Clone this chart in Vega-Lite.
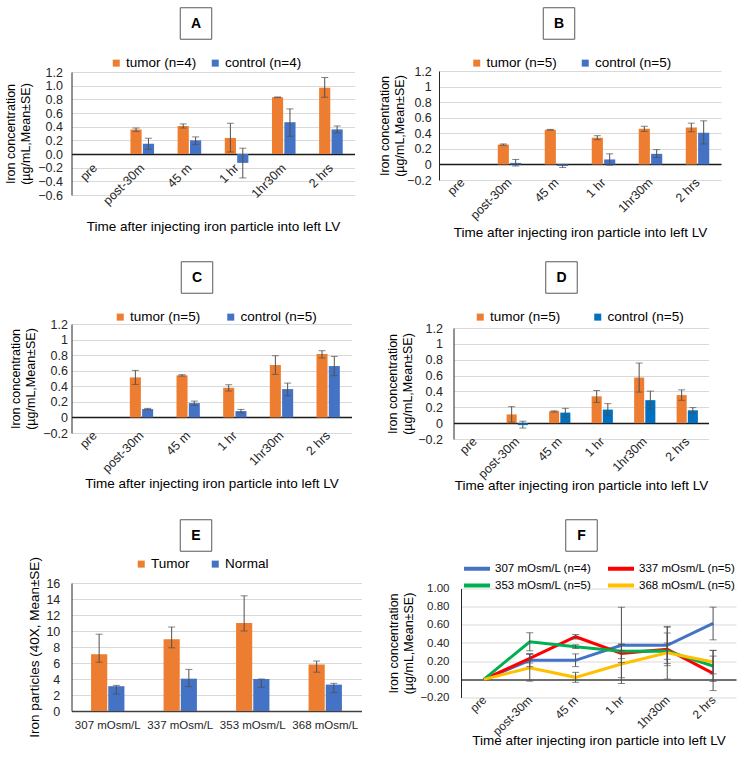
{
  "$schema": "https://vega.github.io/schema/vega-lite/v6.json",
  "background": "white",
  "padding": {"left": 3.5, "top": 5, "right": 0, "bottom": 0},
  "datasets": {
    "A": [
      {"time": "pre", "group": "tumor (n=4)", "value": 0, "lo": null, "hi": null},
      {"time": "pre", "group": "control (n=4)", "value": 0, "lo": null, "hi": null},
      {"time": "post-30m", "group": "tumor (n=4)", "value": 0.36, "lo": 0.33, "hi": 0.38},
      {"time": "post-30m", "group": "control (n=4)", "value": 0.15, "lo": 0.07, "hi": 0.23},
      {"time": "45 m", "group": "tumor (n=4)", "value": 0.41, "lo": 0.38, "hi": 0.44},
      {"time": "45 m", "group": "control (n=4)", "value": 0.2, "lo": 0.14, "hi": 0.25},
      {"time": "1 hr", "group": "tumor (n=4)", "value": 0.235, "lo": 0.03, "hi": 0.45},
      {"time": "1 hr", "group": "control (n=4)", "value": -0.13, "lo": -0.35, "hi": 0.085},
      {"time": "1hr30m", "group": "tumor (n=4)", "value": 0.83, "lo": 0.825, "hi": 0.835},
      {"time": "1hr30m", "group": "control (n=4)", "value": 0.465, "lo": 0.26, "hi": 0.66},
      {"time": "2 hrs", "group": "tumor (n=4)", "value": 0.97, "lo": 0.83, "hi": 1.12},
      {"time": "2 hrs", "group": "control (n=4)", "value": 0.36, "lo": 0.31, "hi": 0.41}
    ],
    "B": [
      {"time": "pre", "group": "tumor (n=5)", "value": 0, "lo": null, "hi": null},
      {"time": "pre", "group": "control (n=5)", "value": 0, "lo": null, "hi": null},
      {"time": "post-30m", "group": "tumor (n=5)", "value": 0.255, "lo": 0.246, "hi": 0.263},
      {"time": "post-30m", "group": "control (n=5)", "value": 0.02, "lo": -0.02, "hi": 0.064},
      {"time": "45 m", "group": "tumor (n=5)", "value": 0.445, "lo": 0.44, "hi": 0.45},
      {"time": "45 m", "group": "control (n=5)", "value": -0.02, "lo": -0.04, "hi": 0.0},
      {"time": "1 hr", "group": "tumor (n=5)", "value": 0.343, "lo": 0.318, "hi": 0.369},
      {"time": "1 hr", "group": "control (n=5)", "value": 0.064, "lo": -0.01, "hi": 0.136},
      {"time": "1hr30m", "group": "tumor (n=5)", "value": 0.458, "lo": 0.424, "hi": 0.49},
      {"time": "1hr30m", "group": "control (n=5)", "value": 0.136, "lo": 0.089, "hi": 0.19},
      {"time": "2 hrs", "group": "tumor (n=5)", "value": 0.475, "lo": 0.42, "hi": 0.53},
      {"time": "2 hrs", "group": "control (n=5)", "value": 0.407, "lo": 0.263, "hi": 0.56}
    ],
    "C": [
      {"time": "pre", "group": "tumor (n=5)", "value": 0, "lo": null, "hi": null},
      {"time": "pre", "group": "control (n=5)", "value": 0, "lo": null, "hi": null},
      {"time": "post-30m", "group": "tumor (n=5)", "value": 0.514, "lo": 0.424, "hi": 0.604},
      {"time": "post-30m", "group": "control (n=5)", "value": 0.107, "lo": 0.099, "hi": 0.116},
      {"time": "45 m", "group": "tumor (n=5)", "value": 0.54, "lo": 0.531, "hi": 0.549},
      {"time": "45 m", "group": "control (n=5)", "value": 0.184, "lo": 0.154, "hi": 0.21},
      {"time": "1 hr", "group": "tumor (n=5)", "value": 0.381, "lo": 0.339, "hi": 0.42},
      {"time": "1 hr", "group": "control (n=5)", "value": 0.081, "lo": 0.06, "hi": 0.103},
      {"time": "1hr30m", "group": "tumor (n=5)", "value": 0.673, "lo": 0.553, "hi": 0.793},
      {"time": "1hr30m", "group": "control (n=5)", "value": 0.364, "lo": 0.279, "hi": 0.441},
      {"time": "2 hrs", "group": "tumor (n=5)", "value": 0.814, "lo": 0.763, "hi": 0.857},
      {"time": "2 hrs", "group": "control (n=5)", "value": 0.66, "lo": 0.536, "hi": 0.784}
    ],
    "D": [
      {"time": "pre", "group": "tumor (n=5)", "value": 0, "lo": null, "hi": null},
      {"time": "pre", "group": "control (n=5)", "value": 0, "lo": null, "hi": null},
      {"time": "post-30m", "group": "tumor (n=5)", "value": 0.11, "lo": 0.012, "hi": 0.208},
      {"time": "post-30m", "group": "control (n=5)", "value": -0.025, "lo": -0.062, "hi": 0.025},
      {"time": "45 m", "group": "tumor (n=5)", "value": 0.15, "lo": 0.14, "hi": 0.155},
      {"time": "45 m", "group": "control (n=5)", "value": 0.133, "lo": 0.075, "hi": 0.187},
      {"time": "1 hr", "group": "tumor (n=5)", "value": 0.338, "lo": 0.262, "hi": 0.412},
      {"time": "1 hr", "group": "control (n=5)", "value": 0.171, "lo": 0.096, "hi": 0.246},
      {"time": "1hr30m", "group": "tumor (n=5)", "value": 0.575, "lo": 0.392, "hi": 0.758},
      {"time": "1hr30m", "group": "control (n=5)", "value": 0.29, "lo": 0.179, "hi": 0.404},
      {"time": "2 hrs", "group": "tumor (n=5)", "value": 0.354, "lo": 0.288, "hi": 0.42},
      {"time": "2 hrs", "group": "control (n=5)", "value": 0.162, "lo": 0.125, "hi": 0.196}
    ],
    "E": [
      {"osm": "307 mOsm/L", "group": "Tumor", "value": 7.1, "lo": 6.1, "hi": 9.6},
      {"osm": "307 mOsm/L", "group": "Normal", "value": 3.1, "lo": 2.1, "hi": 3.2},
      {"osm": "337 mOsm/L", "group": "Tumor", "value": 8.96, "lo": 7.9, "hi": 10.5},
      {"osm": "337 mOsm/L", "group": "Normal", "value": 4.04, "lo": 3.04, "hi": 5.2},
      {"osm": "353 mOsm/L", "group": "Tumor", "value": 11.0, "lo": 10.0, "hi": 14.4},
      {"osm": "353 mOsm/L", "group": "Normal", "value": 4.0, "lo": 2.96, "hi": 4.0},
      {"osm": "368 mOsm/L", "group": "Tumor", "value": 5.8, "lo": 4.85, "hi": 6.25},
      {"osm": "368 mOsm/L", "group": "Normal", "value": 3.3, "lo": 2.3, "hi": 3.46}
    ],
    "F": [
      {"time": "pre", "series": "307 mOsm/L (n=4)", "value": 0, "lo": null, "hi": null},
      {"time": "post-30m", "series": "307 mOsm/L (n=4)", "value": 0.209, "lo": 0.14, "hi": 0.28},
      {"time": "45 m", "series": "307 mOsm/L (n=4)", "value": 0.209, "lo": 0.14, "hi": 0.28},
      {"time": "1 hr", "series": "307 mOsm/L (n=4)", "value": 0.374, "lo": -0.046, "hi": 0.794},
      {"time": "1hr30m", "series": "307 mOsm/L (n=4)", "value": 0.374, "lo": 0.174, "hi": 0.574},
      {"time": "2 hrs", "series": "307 mOsm/L (n=4)", "value": 0.615, "lo": 0.435, "hi": 0.795},
      {"time": "pre", "series": "337 mOsm/L (n=5)", "value": 0, "lo": null, "hi": null},
      {"time": "post-30m", "series": "337 mOsm/L (n=5)", "value": 0.23, "lo": 0.18, "hi": 0.28},
      {"time": "45 m", "series": "337 mOsm/L (n=5)", "value": 0.469, "lo": 0.444, "hi": 0.494},
      {"time": "1 hr", "series": "337 mOsm/L (n=5)", "value": 0.286, "lo": 0.186, "hi": 0.386},
      {"time": "1hr30m", "series": "337 mOsm/L (n=5)", "value": 0.33, "lo": 0.15, "hi": 0.51},
      {"time": "2 hrs", "series": "337 mOsm/L (n=5)", "value": 0.066, "lo": -0.124, "hi": 0.256},
      {"time": "pre", "series": "353 mOsm/L (n=5)", "value": 0, "lo": null, "hi": null},
      {"time": "post-30m", "series": "353 mOsm/L (n=5)", "value": 0.414, "lo": 0.314, "hi": 0.513},
      {"time": "45 m", "series": "353 mOsm/L (n=5)", "value": 0.359, "lo": 0.34, "hi": 0.38},
      {"time": "1 hr", "series": "353 mOsm/L (n=5)", "value": 0.308, "lo": 0.228, "hi": 0.388},
      {"time": "1hr30m", "series": "353 mOsm/L (n=5)", "value": 0.311, "lo": 0.22, "hi": 0.4},
      {"time": "2 hrs", "series": "353 mOsm/L (n=5)", "value": 0.147, "lo": -0.023, "hi": 0.317},
      {"time": "pre", "series": "368 mOsm/L (n=5)", "value": 0, "lo": null, "hi": null},
      {"time": "post-30m", "series": "368 mOsm/L (n=5)", "value": 0.128, "lo": -0.02, "hi": 0.278},
      {"time": "45 m", "series": "368 mOsm/L (n=5)", "value": 0.022, "lo": -0.033, "hi": 0.077},
      {"time": "1 hr", "series": "368 mOsm/L (n=5)", "value": 0.168, "lo": 0.018, "hi": 0.318},
      {"time": "1hr30m", "series": "368 mOsm/L (n=5)", "value": 0.293, "lo": 0.003, "hi": 0.583},
      {"time": "2 hrs", "series": "368 mOsm/L (n=5)", "value": 0.19, "lo": 0.06, "hi": 0.32}
    ]
  },
  "spacing": 20,
  "resolve": {"scale": {"color": "independent", "xOffset": "independent"}, "legend": {"color": "independent"}},
  "vconcat": [
    {
      "hconcat": [
        {
          "vconcat": [
            {"width": 249, "height": 31, "data": {"values": [{"letter": "A"}]}, "layer": [
              {"mark": {"type": "point", "shape": "square", "size": 992, "filled": false, "stroke": "#595959", "strokeWidth": 1, "opacity": 1}, "encoding": {}},
              {"mark": {"type": "text", "fontWeight": "bold", "fontSize": 14, "align": "center", "baseline": "middle"}, "encoding": {"text": {"field": "letter"}}}
            ]},
            {
              "width": 283, "height": 123,
              "data": {"name": "A"},
              "encoding": {
                "x": {"field": "time", "type": "nominal", "title": "Time after injecting iron particle into left LV", "scale": {"domain": ["pre", "post-30m", "45 m", "1 hr", "1hr30m", "2 hrs"], "paddingInner": 0.5, "paddingOuter": 0.25}, "axis": {"labelAngle": -45, "labelAlign": "right", "labelBaseline": "middle", "domain": false, "ticks": false, "grid": false, "labelPadding": -29.5, "titlePadding": 13}},
                "xOffset": {"field": "group", "type": "nominal", "scale": {"domain": ["tumor (n=4)", "control (n=4)"], "paddingInner": 0.1, "paddingOuter": 0}}
              },
              "layer": [
                {"mark": {"type": "bar"},
                 "encoding": {
                   "y": {"field": "value", "type": "quantitative", "title": ["Iron concentration", "(µg/mL,Mean±SE)"], "scale": {"domain": [-0.6, 1.2], "nice": false, "zero": false}, "axis": {"values": [-0.6, -0.4, -0.2, 0, 0.2, 0.4, 0.6, 0.8, 1.0, 1.2], "format": ".1f", "labelPadding": 9, "titlePadding": 5.5, "grid": true, "domain": true, "labelOverlap": false, "gridColor": {"condition": {"test": "datum.value === 0", "value": "#1a1a1a"}, "value": "#D9D9D9"}, "gridWidth": {"condition": {"test": "datum.value === 0", "value": 1.3}, "value": 1}}},
                   "color": {"field": "group", "type": "nominal", "scale": {"domain": ["tumor (n=4)", "control (n=4)"], "range": ["#ED7D31", "#4472C4"]}, "legend": {"orient": "none", "legendX": 38, "legendY": -16, "direction": "horizontal", "title": null, "columnPadding": 12}}
                 }},
                {"transform": [{"filter": "datum.lo != null"}], "mark": {"type": "rule", "color": "#505050"},
                 "encoding": {"y": {"field": "lo", "type": "quantitative", "title": ["Iron concentration", "(µg/mL,Mean±SE)"], "scale": {"domain": [-0.6, 1.2], "nice": false, "zero": false}, "axis": {"values": [-0.6, -0.4, -0.2, 0, 0.2, 0.4, 0.6, 0.8, 1.0, 1.2], "format": ".1f", "labelPadding": 9, "titlePadding": 5.5, "grid": true, "domain": true, "labelOverlap": false, "gridColor": {"condition": {"test": "datum.value === 0", "value": "#1a1a1a"}, "value": "#D9D9D9"}, "gridWidth": {"condition": {"test": "datum.value === 0", "value": 1.3}, "value": 1}}}, "y2": {"field": "hi"}}},
                {"transform": [{"filter": "datum.lo != null"}], "mark": {"type": "tick", "color": "#505050", "size": 7, "thickness": 1},
                 "encoding": {"y": {"field": "lo", "type": "quantitative", "title": ["Iron concentration", "(µg/mL,Mean±SE)"], "scale": {"domain": [-0.6, 1.2], "nice": false, "zero": false}, "axis": {"values": [-0.6, -0.4, -0.2, 0, 0.2, 0.4, 0.6, 0.8, 1.0, 1.2], "format": ".1f", "labelPadding": 9, "titlePadding": 5.5, "grid": true, "domain": true, "labelOverlap": false, "gridColor": {"condition": {"test": "datum.value === 0", "value": "#1a1a1a"}, "value": "#D9D9D9"}, "gridWidth": {"condition": {"test": "datum.value === 0", "value": 1.3}, "value": 1}}}}},
                {"transform": [{"filter": "datum.lo != null"}], "mark": {"type": "tick", "color": "#505050", "size": 7, "thickness": 1},
                 "encoding": {"y": {"field": "hi", "type": "quantitative", "title": ["Iron concentration", "(µg/mL,Mean±SE)"], "scale": {"domain": [-0.6, 1.2], "nice": false, "zero": false}, "axis": {"values": [-0.6, -0.4, -0.2, 0, 0.2, 0.4, 0.6, 0.8, 1.0, 1.2], "format": ".1f", "labelPadding": 9, "titlePadding": 5.5, "grid": true, "domain": true, "labelOverlap": false, "gridColor": {"condition": {"test": "datum.value === 0", "value": "#1a1a1a"}, "value": "#D9D9D9"}, "gridWidth": {"condition": {"test": "datum.value === 0", "value": 1.3}, "value": 1}}}}}
              ]
            }
          ],
          "spacing": 14,
          "resolve": {"scale": {"color": "independent", "xOffset": "independent"}, "legend": {"color": "independent"}}
        },
        {
          "vconcat": [
            {"width": 240, "height": 31, "data": {"values": [{"letter": "B"}]}, "layer": [
              {"mark": {"type": "point", "shape": "square", "size": 992, "filled": false, "stroke": "#595959", "strokeWidth": 1, "opacity": 1}, "encoding": {}},
              {"mark": {"type": "text", "fontWeight": "bold", "fontSize": 14, "align": "center", "baseline": "middle"}, "encoding": {"text": {"field": "letter"}}}
            ]},
            {
              "width": 282, "height": 109,
              "data": {"name": "B"},
              "encoding": {
                "x": {"field": "time", "type": "nominal", "title": "Time after injecting iron particle into left LV", "scale": {"domain": ["pre", "post-30m", "45 m", "1 hr", "1hr30m", "2 hrs"], "paddingInner": 0.5, "paddingOuter": 0.25}, "axis": {"labelAngle": -45, "labelAlign": "right", "labelBaseline": "middle", "domain": false, "ticks": false, "grid": false, "labelPadding": 0, "titlePadding": 4}},
                "xOffset": {"field": "group", "type": "nominal", "scale": {"domain": ["tumor (n=5)", "control (n=5)"], "paddingInner": 0.1, "paddingOuter": 0}}
              },
              "layer": [
                {"mark": {"type": "bar"},
                 "encoding": {
                   "y": {"field": "value", "type": "quantitative", "title": ["Iron concentration", "(µg/mL,Mean±SE)"], "scale": {"domain": [-0.2, 1.2], "nice": false, "zero": false}, "axis": {"values": [-0.2, 0, 0.2, 0.4, 0.6, 0.8, 1.0, 1.2], "format": ".1~f", "labelPadding": 7.7, "titlePadding": 0, "grid": true, "domain": true, "labelOverlap": false, "gridColor": {"condition": {"test": "datum.value === 0", "value": "#1a1a1a"}, "value": "#D9D9D9"}, "gridWidth": {"condition": {"test": "datum.value === 0", "value": 1.3}, "value": 1}}},
                   "color": {"field": "group", "type": "nominal", "scale": {"domain": ["tumor (n=5)", "control (n=5)"], "range": ["#ED7D31", "#4472C4"]}, "legend": {"orient": "none", "legendX": 31, "legendY": -15, "direction": "horizontal", "title": null, "columnPadding": 21.5}}
                 }},
                {"transform": [{"filter": "datum.lo != null"}], "mark": {"type": "rule", "color": "#505050"},
                 "encoding": {"y": {"field": "lo", "type": "quantitative", "title": ["Iron concentration", "(µg/mL,Mean±SE)"], "scale": {"domain": [-0.2, 1.2], "nice": false, "zero": false}, "axis": {"values": [-0.2, 0, 0.2, 0.4, 0.6, 0.8, 1.0, 1.2], "format": ".1~f", "labelPadding": 7.7, "titlePadding": 0, "grid": true, "domain": true, "labelOverlap": false, "gridColor": {"condition": {"test": "datum.value === 0", "value": "#1a1a1a"}, "value": "#D9D9D9"}, "gridWidth": {"condition": {"test": "datum.value === 0", "value": 1.3}, "value": 1}}}, "y2": {"field": "hi"}}},
                {"transform": [{"filter": "datum.lo != null"}], "mark": {"type": "tick", "color": "#505050", "size": 7, "thickness": 1},
                 "encoding": {"y": {"field": "lo", "type": "quantitative", "title": ["Iron concentration", "(µg/mL,Mean±SE)"], "scale": {"domain": [-0.2, 1.2], "nice": false, "zero": false}, "axis": {"values": [-0.2, 0, 0.2, 0.4, 0.6, 0.8, 1.0, 1.2], "format": ".1~f", "labelPadding": 7.7, "titlePadding": 0, "grid": true, "domain": true, "labelOverlap": false, "gridColor": {"condition": {"test": "datum.value === 0", "value": "#1a1a1a"}, "value": "#D9D9D9"}, "gridWidth": {"condition": {"test": "datum.value === 0", "value": 1.3}, "value": 1}}}}},
                {"transform": [{"filter": "datum.lo != null"}], "mark": {"type": "tick", "color": "#505050", "size": 7, "thickness": 1},
                 "encoding": {"y": {"field": "hi", "type": "quantitative", "title": ["Iron concentration", "(µg/mL,Mean±SE)"], "scale": {"domain": [-0.2, 1.2], "nice": false, "zero": false}, "axis": {"values": [-0.2, 0, 0.2, 0.4, 0.6, 0.8, 1.0, 1.2], "format": ".1~f", "labelPadding": 7.7, "titlePadding": 0, "grid": true, "domain": true, "labelOverlap": false, "gridColor": {"condition": {"test": "datum.value === 0", "value": "#1a1a1a"}, "value": "#D9D9D9"}, "gridWidth": {"condition": {"test": "datum.value === 0", "value": 1.3}, "value": 1}}}}}
              ]
            }
          ],
          "spacing": 14,
          "resolve": {"scale": {"color": "independent", "xOffset": "independent"}, "legend": {"color": "independent"}}
        }
      ],
      "spacing": 23.5,
      "resolve": {"scale": {"color": "independent", "xOffset": "independent"}, "legend": {"color": "independent"}}
    },
    {
      "vconcat": [
        {
          "hconcat": [
            {
              "vconcat": [
                {"width": 251, "height": 31, "data": {"values": [{"letter": "C"}]}, "layer": [
                  {"mark": {"type": "point", "shape": "square", "size": 992, "filled": false, "stroke": "#595959", "strokeWidth": 1, "opacity": 1}, "encoding": {}},
                  {"mark": {"type": "text", "fontWeight": "bold", "fontSize": 14, "align": "center", "baseline": "middle"}, "encoding": {"text": {"field": "letter"}}}
                ]},
                {
                  "width": 280, "height": 109,
                  "data": {"name": "C"},
                  "encoding": {
                    "x": {"field": "time", "type": "nominal", "title": "Time after injecting iron particle into left LV", "scale": {"domain": ["pre", "post-30m", "45 m", "1 hr", "1hr30m", "2 hrs"], "paddingInner": 0.5, "paddingOuter": 0.25}, "axis": {"labelAngle": -45, "labelAlign": "right", "labelBaseline": "middle", "domain": false, "ticks": false, "grid": false, "labelPadding": 0, "titlePadding": 2}},
                    "xOffset": {"field": "group", "type": "nominal", "scale": {"domain": ["tumor (n=5)", "control (n=5)"], "paddingInner": 0.1, "paddingOuter": 0}}
                  },
                  "layer": [
                    {"mark": {"type": "bar"},
                     "encoding": {
                       "y": {"field": "value", "type": "quantitative", "title": ["Iron concentration", "(µg/mL,Mean±SE)"], "scale": {"domain": [-0.2, 1.2], "nice": false, "zero": false}, "axis": {"values": [-0.2, 0, 0.2, 0.4, 0.6, 0.8, 1.0, 1.2], "format": ".1~f", "labelPadding": 4, "titlePadding": 5, "grid": true, "domain": true, "labelOverlap": false, "gridColor": {"condition": {"test": "datum.value === 0", "value": "#1a1a1a"}, "value": "#D9D9D9"}, "gridWidth": {"condition": {"test": "datum.value === 0", "value": 1.3}, "value": 1}}},
                       "color": {"field": "group", "type": "nominal", "scale": {"domain": ["tumor (n=5)", "control (n=5)"], "range": ["#ED7D31", "#4472C4"]}, "legend": {"orient": "none", "legendX": 42, "legendY": -14, "direction": "horizontal", "title": null, "columnPadding": 23.5}}
                     }},
                    {"transform": [{"filter": "datum.lo != null"}], "mark": {"type": "rule", "color": "#505050"},
                     "encoding": {"y": {"field": "lo", "type": "quantitative", "title": ["Iron concentration", "(µg/mL,Mean±SE)"], "scale": {"domain": [-0.2, 1.2], "nice": false, "zero": false}, "axis": {"values": [-0.2, 0, 0.2, 0.4, 0.6, 0.8, 1.0, 1.2], "format": ".1~f", "labelPadding": 4, "titlePadding": 5, "grid": true, "domain": true, "labelOverlap": false, "gridColor": {"condition": {"test": "datum.value === 0", "value": "#1a1a1a"}, "value": "#D9D9D9"}, "gridWidth": {"condition": {"test": "datum.value === 0", "value": 1.3}, "value": 1}}}, "y2": {"field": "hi"}}},
                    {"transform": [{"filter": "datum.lo != null"}], "mark": {"type": "tick", "color": "#505050", "size": 7, "thickness": 1},
                     "encoding": {"y": {"field": "lo", "type": "quantitative", "title": ["Iron concentration", "(µg/mL,Mean±SE)"], "scale": {"domain": [-0.2, 1.2], "nice": false, "zero": false}, "axis": {"values": [-0.2, 0, 0.2, 0.4, 0.6, 0.8, 1.0, 1.2], "format": ".1~f", "labelPadding": 4, "titlePadding": 5, "grid": true, "domain": true, "labelOverlap": false, "gridColor": {"condition": {"test": "datum.value === 0", "value": "#1a1a1a"}, "value": "#D9D9D9"}, "gridWidth": {"condition": {"test": "datum.value === 0", "value": 1.3}, "value": 1}}}}},
                    {"transform": [{"filter": "datum.lo != null"}], "mark": {"type": "tick", "color": "#505050", "size": 7, "thickness": 1},
                     "encoding": {"y": {"field": "hi", "type": "quantitative", "title": ["Iron concentration", "(µg/mL,Mean±SE)"], "scale": {"domain": [-0.2, 1.2], "nice": false, "zero": false}, "axis": {"values": [-0.2, 0, 0.2, 0.4, 0.6, 0.8, 1.0, 1.2], "format": ".1~f", "labelPadding": 4, "titlePadding": 5, "grid": true, "domain": true, "labelOverlap": false, "gridColor": {"condition": {"test": "datum.value === 0", "value": "#1a1a1a"}, "value": "#D9D9D9"}, "gridWidth": {"condition": {"test": "datum.value === 0", "value": 1.3}, "value": 1}}}}}
                  ]
                }
              ],
              "spacing": 14,
              "resolve": {"scale": {"color": "independent", "xOffset": "independent"}, "legend": {"color": "independent"}}
            },
            {
              "vconcat": [
                {"width": 216, "height": 31, "data": {"values": [{"letter": "D"}]}, "layer": [
                  {"mark": {"type": "point", "shape": "square", "size": 992, "filled": false, "stroke": "#595959", "strokeWidth": 1, "opacity": 1}, "encoding": {}},
                  {"mark": {"type": "text", "fontWeight": "bold", "fontSize": 14, "align": "center", "baseline": "middle"}, "encoding": {"text": {"field": "letter"}}}
                ]},
                {
                  "width": 255, "height": 111,
                  "data": {"name": "D"},
                  "encoding": {
                    "x": {"field": "time", "type": "nominal", "title": "Time after injecting iron particle into left LV", "scale": {"domain": ["pre", "post-30m", "45 m", "1 hr", "1hr30m", "2 hrs"], "paddingInner": 0.5, "paddingOuter": 0.25}, "axis": {"labelAngle": -45, "labelAlign": "right", "labelBaseline": "middle", "domain": false, "ticks": false, "grid": false, "labelPadding": 0, "titlePadding": -1.5}},
                    "xOffset": {"field": "group", "type": "nominal", "scale": {"domain": ["tumor (n=5)", "control (n=5)"], "paddingInner": 0.1, "paddingOuter": 0}}
                  },
                  "layer": [
                    {"mark": {"type": "bar"},
                     "encoding": {
                       "y": {"field": "value", "type": "quantitative", "title": ["Iron concentration", "(µg/mL,Mean±SE)"], "scale": {"domain": [-0.2, 1.2], "nice": false, "zero": false}, "axis": {"values": [-0.2, 0, 0.2, 0.4, 0.6, 0.8, 1.0, 1.2], "format": ".1~f", "labelPadding": 11, "titlePadding": 3, "grid": true, "domain": true, "labelOverlap": false, "gridColor": {"condition": {"test": "datum.value === 0", "value": "#1a1a1a"}, "value": "#D9D9D9"}, "gridWidth": {"condition": {"test": "datum.value === 0", "value": 1.3}, "value": 1}}},
                       "color": {"field": "group", "type": "nominal", "scale": {"domain": ["tumor (n=5)", "control (n=5)"], "range": ["#ED7D31", "#0070C0"]}, "legend": {"orient": "none", "legendX": 20, "legendY": -18, "direction": "horizontal", "title": null, "columnPadding": 30.5}}
                     }},
                    {"transform": [{"filter": "datum.lo != null"}], "mark": {"type": "rule", "color": "#505050"},
                     "encoding": {"y": {"field": "lo", "type": "quantitative", "title": ["Iron concentration", "(µg/mL,Mean±SE)"], "scale": {"domain": [-0.2, 1.2], "nice": false, "zero": false}, "axis": {"values": [-0.2, 0, 0.2, 0.4, 0.6, 0.8, 1.0, 1.2], "format": ".1~f", "labelPadding": 11, "titlePadding": 3, "grid": true, "domain": true, "labelOverlap": false, "gridColor": {"condition": {"test": "datum.value === 0", "value": "#1a1a1a"}, "value": "#D9D9D9"}, "gridWidth": {"condition": {"test": "datum.value === 0", "value": 1.3}, "value": 1}}}, "y2": {"field": "hi"}}},
                    {"transform": [{"filter": "datum.lo != null"}], "mark": {"type": "tick", "color": "#505050", "size": 7, "thickness": 1},
                     "encoding": {"y": {"field": "lo", "type": "quantitative", "title": ["Iron concentration", "(µg/mL,Mean±SE)"], "scale": {"domain": [-0.2, 1.2], "nice": false, "zero": false}, "axis": {"values": [-0.2, 0, 0.2, 0.4, 0.6, 0.8, 1.0, 1.2], "format": ".1~f", "labelPadding": 11, "titlePadding": 3, "grid": true, "domain": true, "labelOverlap": false, "gridColor": {"condition": {"test": "datum.value === 0", "value": "#1a1a1a"}, "value": "#D9D9D9"}, "gridWidth": {"condition": {"test": "datum.value === 0", "value": 1.3}, "value": 1}}}}},
                    {"transform": [{"filter": "datum.lo != null"}], "mark": {"type": "tick", "color": "#505050", "size": 7, "thickness": 1},
                     "encoding": {"y": {"field": "hi", "type": "quantitative", "title": ["Iron concentration", "(µg/mL,Mean±SE)"], "scale": {"domain": [-0.2, 1.2], "nice": false, "zero": false}, "axis": {"values": [-0.2, 0, 0.2, 0.4, 0.6, 0.8, 1.0, 1.2], "format": ".1~f", "labelPadding": 11, "titlePadding": 3, "grid": true, "domain": true, "labelOverlap": false, "gridColor": {"condition": {"test": "datum.value === 0", "value": "#1a1a1a"}, "value": "#D9D9D9"}, "gridWidth": {"condition": {"test": "datum.value === 0", "value": 1.3}, "value": 1}}}}}
                  ]
                }
              ],
              "spacing": 14,
              "resolve": {"scale": {"color": "independent", "xOffset": "independent"}, "legend": {"color": "independent"}}
            }
          ],
          "spacing": 35,
          "resolve": {"scale": {"color": "independent", "xOffset": "independent"}, "legend": {"color": "independent"}}
        },
        {
          "hconcat": [
            {
              "vconcat": [
                {"width": 249, "height": 31, "data": {"values": [{"letter": "E"}]}, "layer": [
                  {"mark": {"type": "point", "shape": "square", "size": 992, "filled": false, "stroke": "#595959", "strokeWidth": 1, "opacity": 1}, "encoding": {}},
                  {"mark": {"type": "text", "fontWeight": "bold", "fontSize": 14, "align": "center", "baseline": "middle"}, "encoding": {"text": {"field": "letter"}}}
                ]},
                {
                  "width": 290, "height": 128,
                  "data": {"name": "E"},
                  "encoding": {
                    "x": {"field": "osm", "type": "nominal", "title": null, "scale": {"paddingInner": 0.54, "paddingOuter": 0.27}, "axis": {"labelAngle": 0, "domain": false, "ticks": false, "grid": false, "labelPadding": 8, "labelFontSize": 11.5}},
                    "xOffset": {"field": "group", "type": "nominal", "scale": {"domain": ["Tumor", "Normal"], "paddingInner": 0.06, "paddingOuter": 0}}
                  },
                  "layer": [
                    {"mark": {"type": "bar"},
                     "encoding": {
                       "y": {"field": "value", "type": "quantitative", "title": "Iron particles (40X, Mean±SE)", "scale": {"domain": [0, 16], "nice": false}, "axis": {"values": [0, 2, 4, 6, 8, 10, 12, 14, 16], "format": "d", "labelPadding": 11.7, "titlePadding": 4, "titleFontSize": 13.5, "grid": true, "domain": true, "labelOverlap": false, "gridColor": {"condition": {"test": "datum.value === 0", "value": "#404040"}, "value": "#D9D9D9"}, "gridWidth": {"condition": {"test": "datum.value === 0", "value": 1.3}, "value": 1}}},
                       "color": {"field": "group", "type": "nominal", "scale": {"domain": ["Tumor", "Normal"], "range": ["#ED7D31", "#4472C4"]}, "legend": {"orient": "none", "legendX": 63, "legendY": -26, "direction": "horizontal", "title": null, "columnPadding": 18}}
                     }},
                    {"mark": {"type": "rule", "color": "#505050"},
                     "encoding": {"y": {"field": "lo", "type": "quantitative", "title": "Iron particles (40X, Mean±SE)", "scale": {"domain": [0, 16], "nice": false}, "axis": {"values": [0, 2, 4, 6, 8, 10, 12, 14, 16], "format": "d", "labelPadding": 11.7, "titlePadding": 4, "titleFontSize": 13.5, "grid": true, "domain": true, "labelOverlap": false, "gridColor": {"condition": {"test": "datum.value === 0", "value": "#404040"}, "value": "#D9D9D9"}, "gridWidth": {"condition": {"test": "datum.value === 0", "value": 1.3}, "value": 1}}}, "y2": {"field": "hi"}}},
                    {"mark": {"type": "tick", "color": "#505050", "size": 7, "thickness": 1},
                     "encoding": {"y": {"field": "lo", "type": "quantitative", "title": "Iron particles (40X, Mean±SE)", "scale": {"domain": [0, 16], "nice": false}, "axis": {"values": [0, 2, 4, 6, 8, 10, 12, 14, 16], "format": "d", "labelPadding": 11.7, "titlePadding": 4, "titleFontSize": 13.5, "grid": true, "domain": true, "labelOverlap": false, "gridColor": {"condition": {"test": "datum.value === 0", "value": "#404040"}, "value": "#D9D9D9"}, "gridWidth": {"condition": {"test": "datum.value === 0", "value": 1.3}, "value": 1}}}}},
                    {"mark": {"type": "tick", "color": "#505050", "size": 7, "thickness": 1},
                     "encoding": {"y": {"field": "hi", "type": "quantitative", "title": "Iron particles (40X, Mean±SE)", "scale": {"domain": [0, 16], "nice": false}, "axis": {"values": [0, 2, 4, 6, 8, 10, 12, 14, 16], "format": "d", "labelPadding": 11.7, "titlePadding": 4, "titleFontSize": 13.5, "grid": true, "domain": true, "labelOverlap": false, "gridColor": {"condition": {"test": "datum.value === 0", "value": "#404040"}, "value": "#D9D9D9"}, "gridWidth": {"condition": {"test": "datum.value === 0", "value": 1.3}, "value": 1}}}}}
                  ]
                }
              ],
              "spacing": 2,
              "resolve": {"scale": {"color": "independent", "xOffset": "independent"}, "legend": {"color": "independent"}}
            },
            {
              "vconcat": [
                {"width": 241, "height": 31, "data": {"values": [{"letter": "F"}]}, "layer": [
                  {"mark": {"type": "point", "shape": "square", "size": 992, "filled": false, "stroke": "#595959", "strokeWidth": 1, "opacity": 1}, "encoding": {}},
                  {"mark": {"type": "text", "fontWeight": "bold", "fontSize": 14, "align": "center", "baseline": "middle"}, "encoding": {"text": {"field": "letter"}}}
                ]},
                {
                  "width": 275, "height": 109,
                  "data": {"name": "F"},
                  "encoding": {
                    "x": {"field": "time", "type": "nominal", "title": "Time after injecting  iron particle into left LV", "scale": {"type": "point", "domain": ["pre", "post-30m", "45 m", "1 hr", "1hr30m", "2 hrs"], "padding": 0.5}, "axis": {"labelAngle": -45, "labelAlign": "right", "labelBaseline": "middle", "domain": false, "ticks": false, "grid": false, "labelPadding": 0, "titlePadding": -3.5, "labelFontSize": 12}}
                  },
                  "layer": [
                    {"mark": {"type": "line", "strokeWidth": 3},
                     "encoding": {
                       "y": {"field": "value", "type": "quantitative", "title": ["Iron concentration", "(µg/mL,Mean±SE)"], "scale": {"domain": [-0.2, 1.0], "nice": false, "zero": false}, "axis": {"values": [-0.2, 0, 0.2, 0.4, 0.6, 0.8, 1.0], "format": ".2f", "labelPadding": 12, "titlePadding": 4, "labelFontSize": 11.5, "grid": true, "domain": true, "labelOverlap": false, "gridColor": {"condition": {"test": "datum.value === 0", "value": "#404040"}, "value": "#D9D9D9"}, "gridWidth": {"condition": {"test": "datum.value === 0", "value": 1.3}, "value": 1}}},
                       "color": {"field": "series", "type": "nominal", "scale": {"domain": ["307 mOsm/L (n=4)", "337 mOsm/L (n=5)", "353 mOsm/L (n=5)", "368 mOsm/L (n=5)"], "range": ["#4472C4", "#FF0000", "#00B050", "#FFC000"]}, "legend": {"orient": "none", "legendX": 7.5, "legendY": -28.5, "columns": 2, "direction": "horizontal", "title": null, "symbolType": "M-2,0H2", "symbolSize": 169, "symbolStrokeWidth": 4, "labelOffset": 9.5, "labelFontSize": 11.5, "rowPadding": 0, "columnPadding": 8}}
                     }},
                    {"transform": [{"filter": "datum.lo != null"}], "mark": {"type": "rule", "color": "#505050"},
                     "encoding": {"y": {"field": "lo", "type": "quantitative", "title": ["Iron concentration", "(µg/mL,Mean±SE)"], "scale": {"domain": [-0.2, 1.0], "nice": false, "zero": false}, "axis": {"values": [-0.2, 0, 0.2, 0.4, 0.6, 0.8, 1.0], "format": ".2f", "labelPadding": 12, "titlePadding": 4, "labelFontSize": 11.5, "grid": true, "domain": true, "labelOverlap": false, "gridColor": {"condition": {"test": "datum.value === 0", "value": "#404040"}, "value": "#D9D9D9"}, "gridWidth": {"condition": {"test": "datum.value === 0", "value": 1.3}, "value": 1}}}, "y2": {"field": "hi"}}},
                    {"transform": [{"filter": "datum.lo != null"}], "mark": {"type": "tick", "color": "#505050", "size": 7, "thickness": 1},
                     "encoding": {"y": {"field": "lo", "type": "quantitative", "title": ["Iron concentration", "(µg/mL,Mean±SE)"], "scale": {"domain": [-0.2, 1.0], "nice": false, "zero": false}, "axis": {"values": [-0.2, 0, 0.2, 0.4, 0.6, 0.8, 1.0], "format": ".2f", "labelPadding": 12, "titlePadding": 4, "labelFontSize": 11.5, "grid": true, "domain": true, "labelOverlap": false, "gridColor": {"condition": {"test": "datum.value === 0", "value": "#404040"}, "value": "#D9D9D9"}, "gridWidth": {"condition": {"test": "datum.value === 0", "value": 1.3}, "value": 1}}}}},
                    {"transform": [{"filter": "datum.lo != null"}], "mark": {"type": "tick", "color": "#505050", "size": 7, "thickness": 1},
                     "encoding": {"y": {"field": "hi", "type": "quantitative", "title": ["Iron concentration", "(µg/mL,Mean±SE)"], "scale": {"domain": [-0.2, 1.0], "nice": false, "zero": false}, "axis": {"values": [-0.2, 0, 0.2, 0.4, 0.6, 0.8, 1.0], "format": ".2f", "labelPadding": 12, "titlePadding": 4, "labelFontSize": 11.5, "grid": true, "domain": true, "labelOverlap": false, "gridColor": {"condition": {"test": "datum.value === 0", "value": "#404040"}, "value": "#D9D9D9"}, "gridWidth": {"condition": {"test": "datum.value === 0", "value": 1.3}, "value": 1}}}}}
                  ]
                }
              ],
              "spacing": 5.5,
              "resolve": {"scale": {"color": "independent", "xOffset": "independent"}, "legend": {"color": "independent"}}
            }
          ],
          "spacing": 25.5,
          "resolve": {"scale": {"color": "independent", "xOffset": "independent"}, "legend": {"color": "independent"}}
        }
      ],
      "spacing": 24,
      "resolve": {"scale": {"color": "independent", "xOffset": "independent"}, "legend": {"color": "independent"}}
    }
  ],
  "config": {
    "font": "Liberation Sans",
    "view": {"stroke": null},
    "axis": {"labelFont": "Liberation Sans", "titleFont": "Liberation Sans", "labelFontSize": 12.5, "titleFontSize": 13.5, "titleFontWeight": "normal", "labelColor": "#262626", "titleColor": "#000000", "domainColor": "#262626", "ticks": false, "titleLineHeight": 15},
    "axisY": {"titleFontSize": 12.5},
    "legend": {"labelFont": "Liberation Sans", "labelFontSize": 13.5, "labelColor": "#000000", "symbolType": "square", "symbolSize": 49, "labelOffset": 3, "columnPadding": 12, "padding": 0},
    "text": {"font": "Liberation Sans"}
  }
}
